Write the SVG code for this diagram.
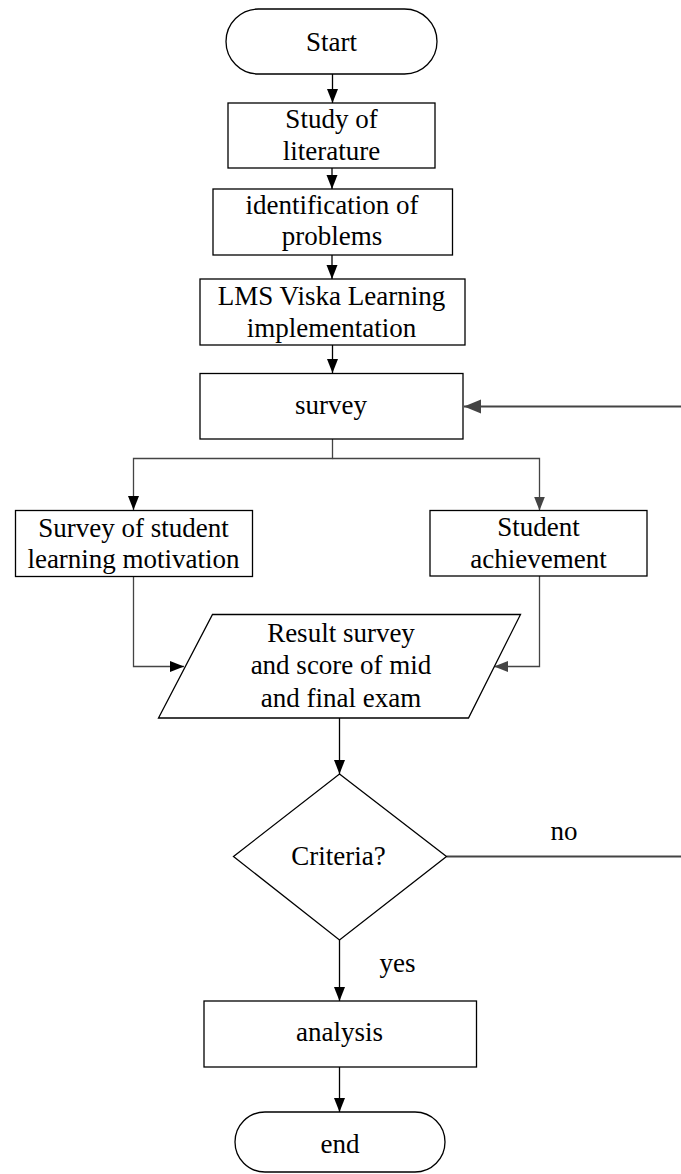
<svg xmlns="http://www.w3.org/2000/svg" width="681" height="1174" viewBox="0 0 681 1174">
<defs>
<style>
.shape{fill:#fff;stroke:#000;stroke-width:1.3}
.t{font-family:"Liberation Serif","Times New Roman",serif;font-size:27px;fill:#000;text-anchor:middle}
.cb{fill:none;stroke:#000;stroke-width:1.3}
.cg{fill:none;stroke:#444;stroke-width:1.3}
.cgt{fill:none;stroke:#444;stroke-width:2.2}
</style>
<marker id="ab" markerUnits="userSpaceOnUse" markerWidth="14" markerHeight="12" refX="14" refY="6" orient="auto"><path d="M0,0.5 L14,6 L0,11.5 z" fill="#000"/></marker>
<marker id="ag" markerUnits="userSpaceOnUse" markerWidth="14" markerHeight="12" refX="14" refY="6" orient="auto"><path d="M0,0.5 L14,6 L0,11.5 z" fill="#444"/></marker>
<marker id="agl" markerUnits="userSpaceOnUse" markerWidth="17" markerHeight="15" refX="17" refY="7.5" orient="auto"><path d="M0,0.5 L17,7.5 L0,14.5 z" fill="#444"/></marker>
</defs>
<rect width="681" height="1174" fill="#fff"/>
<g id="connectors">
<line class="cb" x1="332.5" y1="74" x2="332.5" y2="103" marker-end="url(#ab)"/>
<line class="cb" x1="332" y1="168" x2="332" y2="189" marker-end="url(#ab)"/>
<line class="cb" x1="332" y1="255" x2="332" y2="279" marker-end="url(#ab)"/>
<line class="cb" x1="332.5" y1="345" x2="332.5" y2="373" marker-end="url(#ab)"/>
<line class="cgt" x1="681" y1="406.5" x2="464" y2="406.5" marker-end="url(#agl)"/>
<polyline class="cg" points="332.5,439 332.5,458.5 133.5,458.5 133.5,510" marker-end="url(#ab)"/>
<polyline class="cg" points="332.5,458.5 539.5,458.5 539.5,510.5" marker-end="url(#ag)"/>
<polyline class="cg" points="133.5,577 133.5,666.5 184,666.5" marker-end="url(#ab)"/>
<polyline class="cg" points="539.5,576 539.5,666.5 494,666.5" marker-end="url(#ag)"/>
<line class="cb" x1="339.5" y1="718" x2="339.5" y2="774" marker-end="url(#ab)"/>
<line class="cgt" x1="446.5" y1="856.5" x2="681" y2="856.5"/>
<text class="t" x="564" y="840">no</text>
<line class="cb" x1="339.5" y1="940" x2="339.5" y2="1001" marker-end="url(#ab)"/>
<text class="t" x="397.5" y="972">yes</text>
<line class="cb" x1="339.5" y1="1067" x2="339.5" y2="1112" marker-end="url(#ab)"/>
</g>
<g id="start">
<rect class="shape" x="226" y="9" width="211" height="65" rx="32.5"/>
<text class="t" x="331.5" y="51">Start</text>
</g>
<g id="study">
<rect class="shape" x="228" y="103" width="207" height="65"/>
<text class="t" x="331.5" y="128">Study of</text>
<text class="t" x="331.5" y="159.5">literature</text>
</g>
<g id="identification">
<rect class="shape" x="213" y="189" width="239.5" height="66"/>
<text class="t" x="332" y="213.5">identification of</text>
<text class="t" x="332" y="244.5">problems</text>
</g>
<g id="lms">
<rect class="shape" x="200" y="279" width="265" height="66"/>
<text class="t" x="331.5" y="305">LMS Viska Learning</text>
<text class="t" x="331.5" y="336.5">implementation</text>
</g>
<g id="survey">
<rect class="shape" x="200" y="373.5" width="263" height="65.5"/>
<text class="t" x="331" y="414">survey</text>
</g>
<g id="motivation">
<rect class="shape" x="15.5" y="510.5" width="237" height="66"/>
<text class="t" x="133.5" y="536.5">Survey of student</text>
<text class="t" x="133.5" y="568">learning motivation</text>
</g>
<g id="achievement">
<rect class="shape" x="430" y="510.5" width="217" height="65.5"/>
<text class="t" x="538.5" y="536">Student</text>
<text class="t" x="538.5" y="568">achievement</text>
</g>
<g id="result">
<polygon class="shape" points="212.5,614.5 520.5,614.5 468.5,718 158.5,718"/>
<text class="t" x="341" y="641.5">Result survey</text>
<text class="t" x="341" y="674">and score of mid</text>
<text class="t" x="341" y="707">and final exam</text>
</g>
<g id="criteria">
<polygon class="shape" points="339.5,774 446.5,856.5 339.5,940 233.5,856.5"/>
<text class="t" x="338.5" y="865">Criteria?</text>
</g>
<g id="analysis">
<rect class="shape" x="204" y="1001" width="272.5" height="66"/>
<text class="t" x="339.5" y="1041">analysis</text>
</g>
<g id="end">
<rect class="shape" x="235" y="1112" width="210" height="60" rx="30"/>
<text class="t" x="340" y="1153">end</text>
</g>
</svg>
